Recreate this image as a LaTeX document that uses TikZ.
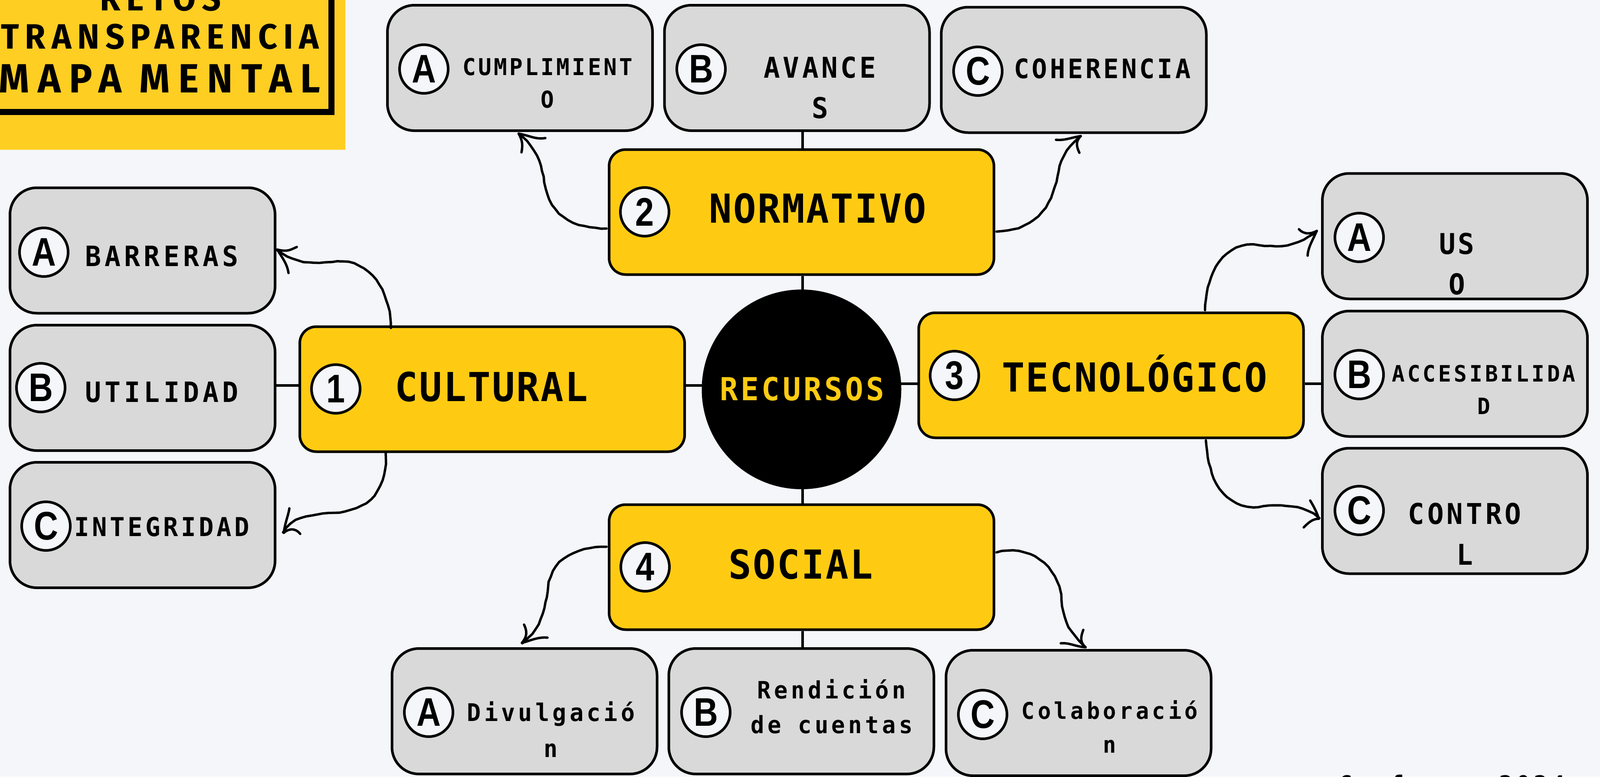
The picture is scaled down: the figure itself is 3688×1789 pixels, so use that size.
\documentclass[tikz,border=0pt]{standalone}
\usepackage{fontspec}
\usetikzlibrary{calc,decorations.pathmorphing}
\newfontfamily\monoF[FakeStretch=0.95]{DejaVu Sans Mono}
\newfontfamily\headF[FakeStretch=0.95]{Fira Sans}
\newfontfamily\letF[FakeStretch=0.84]{Liberation Sans}
\newcommand\mtext[3]{\monoF\bfseries\fontsize{#1}{#2}\selectfont\addfontfeature{LetterSpace=#3}}
\newcommand\htext[2]{\headF\bfseries\fontsize{#1}{#1}\selectfont\addfontfeature{LetterSpace=#2}}
\definecolor{pagebg}{HTML}{F4F6FA}
\definecolor{boxyellow}{HTML}{FFCB12}
\definecolor{headyellow}{HTML}{FFCE23}
\definecolor{boxgrey}{HTML}{D9D9D9}
\tikzset{
  greybox/.style={draw=black,line width=6pt,fill=boxgrey,rounded corners=62pt,minimum width=611pt,minimum height=289pt,inner sep=0pt},
  yellowbox/.style={draw=black,line width=6pt,fill=boxyellow,rounded corners=38pt,minimum width=887pt,minimum height=288pt,inner sep=0pt},
  badge/.style={circle,draw=black,line width=6pt,fill=pagebg,minimum size=112pt,inner sep=0pt,font=\letF\bfseries\fontsize{92}{92}\selectfont},
  link/.style={draw=black,line width=5.5pt},
  hand/.style={draw=black,line width=5.5pt,line cap=round,line join=round},
  rough/.style={decorate,decoration={random steps,segment length=13pt,amplitude=0.9pt}},
  lbl/.style={inner sep=0pt,outer sep=0pt,align=center},
}
\begin{document}
\begin{tikzpicture}[x=1pt,y=-1pt]
\useasboundingbox (0,0) rectangle (3688,1789);
\fill[pagebg] (0,0) rectangle (3688,1789);
% header
\fill[headyellow] (0,0) rectangle (796,345);
\draw[black,line width=14pt] (-40,-40) rectangle (764,258);
\node[lbl,anchor=base,font=\htext{81}{17}] (h1) at (370,24) {RETOS};
\node[lbl,anchor=base,font=\htext{81}{17}] (h2) at (369,112) {TRANSPARENCIA};
\node[lbl,anchor=base,font=\htext{94}{21}] (h3) at (368,213) {MAPA MENTAL};
% boxes
\node[greybox] (barr) at (328.5,577) {};
\node[greybox] (util) at (328.5,893.5) {};
\node[greybox] (inte) at (328.5,1209.5) {};
\node[greybox] (cump) at (1198.5,156.5) {};
\node[greybox] (avan) at (1837,156.5) {};
\node[greybox] (cohe) at (2475,161) {};
\node[greybox] (usob) at (3353.5,544) {};
\node[greybox] (acce) at (3353.5,861) {};
\node[greybox] (cont) at (3353.5,1177) {};
\node[greybox] (divu) at (1209,1638.5) {};
\node[greybox] (rend) at (1847,1638.5) {};
\node[greybox] (cola) at (2486,1642.5) {};
\node[yellowbox] (cult) at (1134.5,896.5) {};
\node[yellowbox] (norm) at (1847.5,488.5) {};
\node[yellowbox] (tecn) at (2561,864.5) {};
\node[yellowbox] (soci) at (1847.5,1306.5) {};
\node[circle,fill=black,minimum size=460pt,inner sep=0pt] (hub) at (1847.5,897) {};
% straight links
\coordinate (vx) at (1850,0);
\coordinate (hl) at (0,888);
\coordinate (hr) at (0,884);
\draw[link] (vx |- avan.south) -- (vx |- norm.north);
\draw[link] (vx |- norm.south) -- (vx |- hub.north);
\draw[link] (vx |- hub.south) -- (vx |- soci.north);
\draw[link] (vx |- soci.south) -- (vx |- rend.north);
\draw[link] (util.east |- hl) -- (cult.west |- hl);
\draw[link] (cult.east |- hl) -- ($(hub.west |- hl)+(5,0)$);
\draw[link] ($(hub.east |- hr)+(-5,0)$) -- (tecn.west |- hr);
\draw[link] (tecn.east |- hr) -- (acce.west |- hr);
% hand-drawn connectors
\coordinate (s1) at ($(cult.north west)+(213,6)$);
\coordinate (t1) at ($(barr.east)+(2,-2)$);
\draw[hand,rough] (s1) .. controls (900,680) and (860,606) .. (790,603) .. controls (750,600) and (695,620) .. (t1);
\draw[hand] (t1) .. controls (664,581) and (670,575) .. (684,569);
\draw[hand] (t1) .. controls (655,600) and (662,610) .. (665,629);
\coordinate (s2) at ($(cult.south west)+(201,-1)$);
\coordinate (t2) at ($(inte.east)+(17,18)$);
\draw[hand,rough] (s2) .. controls (892,1120) and (860,1175) .. (770,1181) .. controls (720,1185) and (670,1190) .. (t2);
\draw[hand] (t2) .. controls (658,1200) and (664,1190) .. (667,1171);
\draw[hand] (t2) .. controls (665,1218) and (680,1215) .. (692,1230);
\coordinate (s3) at ($(norm.west)+(-3,38)$);
\coordinate (t3) at ($(cump.south)+(-3,4)$);
\draw[hand,rough] (s3) .. controls (1300,525) and (1265,480) .. (1255,420) .. controls (1245,370) and (1235,340) .. (t3);
\draw[hand] (t3) .. controls (1220,312) and (1235,322) .. (1257,318);
\draw[hand] (t3) .. controls (1205,325) and (1205,335) .. (1202,351);
\coordinate (s4) at ($(norm.east)+(3,45)$);
\coordinate (t4) at ($(cohe.south)+(16,5)$);
\draw[hand,rough] (s4) .. controls (2390,530) and (2425,470) .. (2437,408) .. controls (2445,365) and (2460,340) .. (t4);
\draw[hand] (t4) .. controls (2468,317) and (2455,324) .. (2434,322);
\draw[hand] (t4) .. controls (2480,325) and (2480,335) .. (2488,352);
\coordinate (s5) at ($(tecn.north west)+(663,-3)$);
\coordinate (t5) at ($(usob.west)+(-10,-12)$);
\draw[hand,rough] (s5) .. controls (2780,630) and (2820,562) .. (2890,564) .. controls (2960,572) and (2990,565) .. (t5);
\draw[hand] (t5) .. controls (3020,540) and (3005,540) .. (2994,528);
\draw[hand] (t5) .. controls (3025,555) and (3015,570) .. (3014,589);
\coordinate (s6) at ($(tecn.south west)+(665,3)$);
\coordinate (t6) at ($(cont.west)+(-5,18)$);
\draw[hand,rough] (s6) .. controls (2785,1090) and (2810,1170) .. (2900,1168) .. controls (2960,1160) and (3010,1165) .. (t6);
\draw[hand] (t6) .. controls (3035,1180) and (3030,1170) .. (3020,1153);
\draw[hand] (t6) .. controls (3025,1195) and (3015,1205) .. (3005,1215);
\coordinate (s7) at ($(soci.west)+(-3,-47)$);
\coordinate (t7) at ($(divu.north)+(-6,-10)$);
\draw[hand,rough] (s7) .. controls (1310,1260) and (1272,1300) .. (1264,1350) .. controls (1255,1410) and (1245,1450) .. (t7);
\draw[hand] (t7) .. controls (1216,1465) and (1215,1455) .. (1208,1439);
\draw[hand] (t7) .. controls (1225,1475) and (1240,1467) .. (1262,1469);
\coordinate (s8) at ($(soci.east)+(3,-34)$);
\coordinate (t8) at ($(cola.north)+(16,-4)$);
\draw[hand,rough] (s8) .. controls (2370,1255) and (2435,1300) .. (2445,1370) .. controls (2450,1430) and (2465,1455) .. (t8);
\draw[hand] (t8) .. controls (2480,1490) and (2465,1480) .. (2445,1482);
\draw[hand] (t8) .. controls (2490,1480) and (2490,1470) .. (2497,1451);
% badges
\node[badge] (bA1) at (101,581) {A};
\node[badge] (bB1) at (94,893) {B};
\node[badge] (bC1) at (106,1212) {C};
\node[badge] (bn1) at (774,896) {1};
\node[badge] (bA2) at (977,159) {A};
\node[badge] (bB2) at (1616,159) {B};
\node[badge] (bC2) at (2254,164) {C};
\node[badge] (bn2) at (1486,488) {2};
\node[badge] (bn3) at (2200,865) {3};
\node[badge] (bA3) at (3133,547) {A};
\node[badge] (bB3) at (3133,863) {B};
\node[badge] (bC3) at (3133,1176) {C};
\node[badge] (bn4) at (1487,1306) {4};
\node[badge] (bA4) at (988,1641) {A};
\node[badge] (bB4) at (1627,1641) {B};
\node[badge] (bC4) at (2265,1646) {C};
% labels
\node[lbl,font=\mtext{64.5}{70}{12.8}] (l1) at (373,590) {BARRERAS};
\node[lbl,font=\mtext{64.5}{70}{12.8}] (l2) at (373,903) {UTILIDAD};
\node[lbl,font=\mtext{60}{70}{11.2}] (l3) at (373,1214) {INTEGRIDAD};
\node[lbl,font=\mtext{53.5}{75}{10.3}] (l4) at (1262,191.5) {CUMPLIMIENT\\O};
\node[lbl,font=\mtext{66}{93}{9.7}] (l5) at (1890,202) {AVANCE\\S};
\node[lbl,font=\mtext{61.7}{70}{9.7}] (l6) at (2541,158) {COHERENCIA};
\node[lbl,font=\mtext{66}{93}{8}] (l7) at (3358,608) {US\\O};
\node[lbl,font=\mtext{52}{75}{11.6}] (l8) at (3420,898) {ACCESIBILIDA\\D};
\node[lbl,font=\mtext{66}{94}{10.4}] (l9) at (3376,1230) {CONTRO\\L};
\node[lbl,font=\mtext{56}{83}{13.1}] (l10) at (1270,1680) {Divulgació\\n};
\node[lbl,font=\mtext{55}{80}{13.4}] (l11) at (1917,1628) {Rendición\\de cuentas};
\node[lbl,font=\mtext{53}{78}{13.8}] (l12) at (2558,1673.5) {Colaboració\\n};
\node[lbl,font=\mtext{92}{100}{3.6}] (t1l) at (1133,891) {CULTURAL};
\node[lbl,font=\mtext{92}{100}{3.6}] (t2l) at (1885,480) {NORMATIVO};
\node[lbl,anchor=base,font=\mtext{92}{100}{3.6}] (t3l) at (2615,902) {TECNOLÓGICO};
\node[lbl,font=\mtext{92}{100}{3.6}] (t4l) at (1846,1300) {SOCIAL};
\node[lbl,text=boxyellow,font=\mtext{73}{80}{8.9}] (hubl) at (1849,896) {RECURSOS};
\node[lbl,anchor=base west,font=\mtext{56}{60}{14}] (foot) at (3085,1827) {Conforme\hspace{20pt} 2024};
\end{tikzpicture}
\end{document}
